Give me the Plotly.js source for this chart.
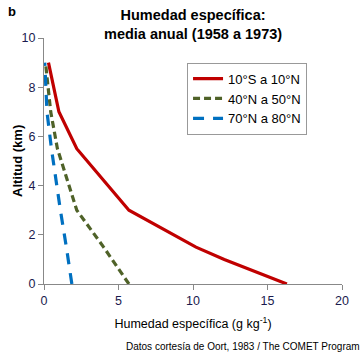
<!DOCTYPE html>
<html><head><meta charset="utf-8">
<script src="https://cdn.plot.ly/plotly-3.0.1.min.js"></script>
<style>body{margin:0;padding:0;background:#fff}#c{width:364px;height:355px}</style>
</head><body><div id="c"></div>
<script>
const altitude = [0, 1, 1.5, 3, 5.5, 7, 9];
const tropics = [16.3, 12.1, 10.2, 5.7, 2.2, 1.0, 0.3];
const midLat = [5.7, 4.6, 4.0, 2.2, 0.9, 0.45, 0.1];
const polar = [1.87, 1.65, 1.5, 1.1, 0.5, 0.2, 0.05];
const names = ["10°S a 10°N", "40°N a 50°N", "70°N a 80°N"];
const xTicks = [0, 5, 10, 15, 20];
const yTicks = [0, 2, 4, 6, 8, 10];

const FF = 'Liberation Sans, Arial, sans-serif';
const traces = [
  {x: tropics, y: altitude, name: names[0], mode: 'lines', line: {color: '#c00000', width: 3.2}},
  {x: midLat, y: altitude, name: names[1], mode: 'lines', line: {color: '#4f6228', width: 3.2, dash: '7px,4px'}},
  {x: polar, y: altitude, name: names[2], mode: 'lines', line: {color: '#0070c0', width: 3.2, dash: '11px,9px'}}
];
const tickFont = {family: FF, size: 12.5, color: '#1a1a4e'};
const layout = {
  width: 364, height: 355,
  margin: {l: 44, r: 22, t: 38, b: 71},
  paper_bgcolor: '#fff', plot_bgcolor: '#fff',
  showlegend: true,
  font: {family: FF, size: 12, color: '#000'},
  xaxis: {range: [0, 20], tickvals: xTicks, ticks: 'outside', ticklen: 5, tickcolor: '#888', showline: true, linecolor: '#888',
          linewidth: 1, showgrid: false, zeroline: false, tickfont: tickFont,
          title: {text: 'Humedad específica (g kg<sup>-1</sup>)', standoff: 12, font: {family: FF, size: 12.5, color: '#000'}}},
  yaxis: {range: [0, 10], tickvals: yTicks, ticks: 'outside', ticklen: 5, tickcolor: '#888', showline: true, linecolor: '#888',
          linewidth: 1, showgrid: false, zeroline: false, tickfont: tickFont},
  legend: {x: 0.48, y: 0.9, xanchor: 'left', yanchor: 'top', bordercolor: '#999', borderwidth: 1, bgcolor: '#fff',
           font: {family: FF, size: 13, color: '#000'}, tracegroupgap: 0},
  annotations: [
    {text: '<b>Humedad específica:<br>media anual (1958 a 1973)</b>', xref: 'paper', yref: 'paper', x: 0.5, y: 1,
     xanchor: 'center', yanchor: 'bottom', showarrow: false, xshift: 0, yshift: -6, font: {family: FF, size: 14.5, color: '#000'}},
    {text: '<b>Altitud (km)</b>', xref: 'paper', yref: 'paper', x: 0, y: 0.5, xanchor: 'center', yanchor: 'middle',
     textangle: -90, showarrow: false, xshift: -27, font: {family: FF, size: 13, color: '#000'}},
    {text: '<b>b</b>', xref: 'paper', yref: 'paper', x: 0, y: 1, xanchor: 'left', yanchor: 'top', showarrow: false,
     xshift: -38, yshift: 36, font: {family: FF, size: 13, color: '#000'}},
    {text: 'Datos cortesía de Oort, 1983 / The COMET Program', xref: 'paper', yref: 'paper', x: 1, y: 0,
     xanchor: 'right', yanchor: 'middle', showarrow: false, xshift: 20, yshift: -62, font: {family: FF, size: 10, color: '#000'}}
  ]
};
Plotly.newPlot('c', traces, layout, {displayModeBar: false, staticPlot: true});
</script></body></html>
